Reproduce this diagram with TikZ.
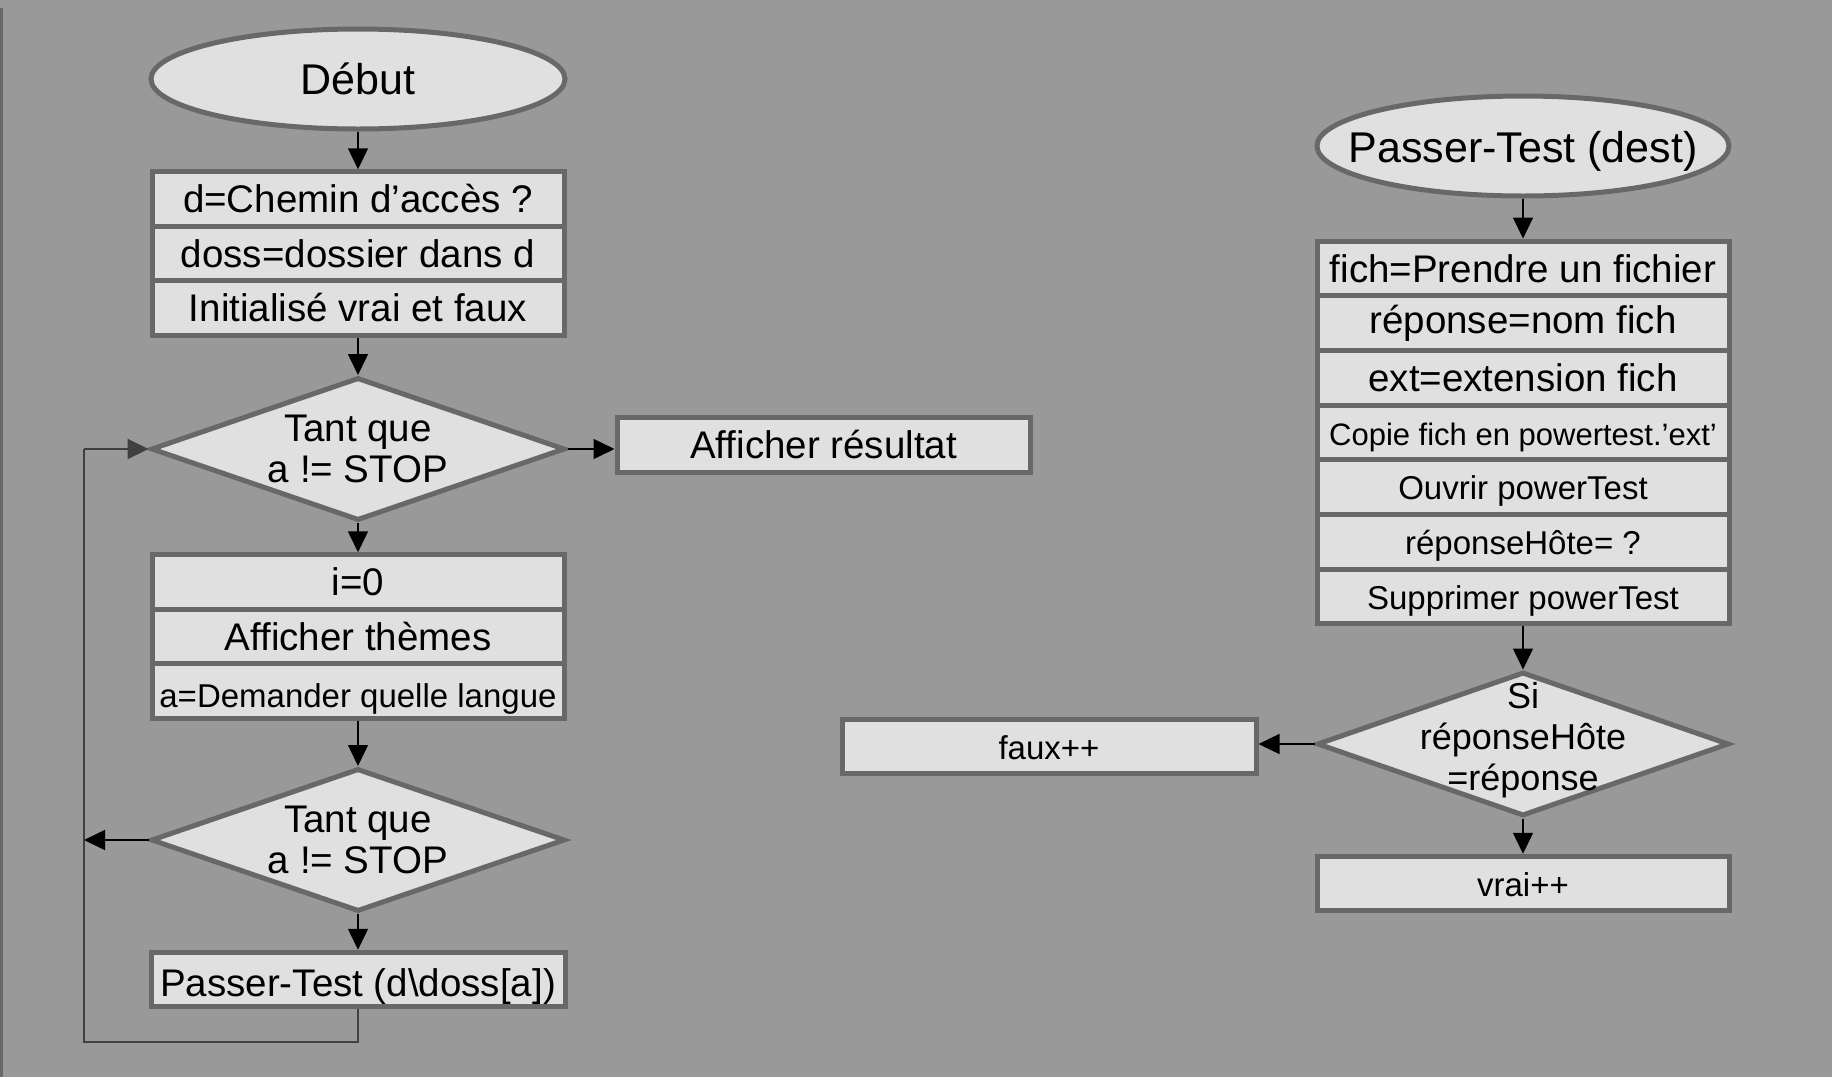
\documentclass[tikz,border=0pt]{standalone}
\usepackage{fontspec}
\setmainfont{Liberation Sans}
\usetikzlibrary{arrows.meta}
\usetikzlibrary{shapes.geometric}

\definecolor{fond}{RGB}{153,153,153}
\definecolor{remplissage}{RGB}{224,224,224}
\definecolor{bord}{RGB}{104,104,104}

\begin{document}
\begin{tikzpicture}[x=1pt,y=1pt,yscale=-1,xscale=1,
  boite/.style={rectangle, draw=bord, fill=remplissage, line width=5pt, minimum width=412pt, minimum height=54.5pt, inner sep=0pt, font=\fontsize{38.5}{41}\selectfont},
  ovale/.style={ellipse, draw=bord, fill=remplissage, line width=5pt, minimum width=412pt, minimum height=100pt, inner sep=0pt},
  losange/.style={diamond, draw=bord, fill=remplissage, line width=5pt, minimum width=414pt, minimum height=143pt, inner sep=0pt},
  texte/.style={align=center, inner sep=0pt, font=\fontsize{38.5}{41}\selectfont},
  petit/.style={font=\fontsize{33}{36}\selectfont, text depth=4pt, text height=29pt},
  fleche/.style={draw=black, line width=1.5pt, -{Triangle[length=21pt,width=20pt]}},
  retour/.style={draw=black!75, line width=2pt}]
%set diagram left start at 0, and has height of 1077
\fill[fond] (0,0) rectangle (1832,1077);
\useasboundingbox (0,0) rectangle (1832,1077);
\draw[bord, line width=3pt] (1.5,8) -- (1.5,1077);

%Shape: Ellipse [Debut]
\node[ovale, minimum width=414pt] (debut) at (358,79) {};
% Text Node
\node[texte, font=\fontsize{43}{46}\selectfont] (debut-t) at (debut.center) {Début};
%Shape: Rectangle
\node[boite] (chemin) at (358,199) {d=Chemin d’accès ?};
\node[boite] (doss) at (358,253.5) {doss=dossier dans d};
\node[boite] (init) at (358,308) {Initialisé vrai et faux};
%Shape: Diamond
\node[losange] (tq1) at (358,449) {};
% Text Node
\node[texte] (tq1-t) at (tq1.center) {Tant que\\a != STOP};
%Shape: Rectangle
\node[boite, minimum width=413pt] (resultat) at (823.5,445) {Afficher résultat};
\node[boite] (i0) at (358,582) {i=0};
\node[boite] (themes) at (358,636.5) {Afficher thèmes};
\node[boite, petit, text height=40pt, text depth=7pt] (langue) at (358,691) {a=Demander quelle langue};
%Shape: Diamond
\node[losange] (tq2) at (358,840) {};
% Text Node
\node[texte] (tq2-t) at (tq2.center) {Tant que\\a != STOP};
%Shape: Rectangle
\node[boite, minimum width=414pt, text height=40pt, text depth=7pt] (appel) at (358,979.5) {Passer-Test (d\textbackslash doss[a])};
\coordinate (coin-haut) at (84,449);
\coordinate (coin-bas) at (84,1042);
\coordinate (gauche) at (84,840);

%Straight Lines
\draw[fleche] (debut) -- (chemin);
\draw[fleche] (init) -- (tq1);
\draw[fleche] (tq1) -- (i0);
\draw[fleche] (tq1.east) -- (tq1.east -| resultat.west);
\draw[fleche] (langue) -- (tq2);
\draw[fleche] (tq2) -- (appel);
\draw[fleche] (tq2.west) -- (gauche);
\draw[retour] (appel.south) |- (coin-bas) -- (coin-haut);
\draw[fleche, line width=2pt, draw=black!75] (coin-haut) -- (tq1.west);

%Shape: Ellipse [Passer-Test]
\node[ovale] (pt) at (1523,146) {};
% Text Node
\node[texte, font=\fontsize{43}{46}\selectfont] (pt-t) at ([yshift=5pt]pt.center) {Passer-Test (dest)};
%Shape: Rectangle
\node[boite, minimum height=54.7pt] (fich) at (1523,268.4) {fich=Prendre un fichier};
\node[boite, minimum height=54.7pt] (reponse) at (1523,323.1) {réponse=nom fich};
\node[boite, minimum height=54.7pt] (ext) at (1523,377.8) {ext=extension fich};
\node[boite, minimum height=54.7pt, petit, font=\fontsize{31}{34}\selectfont] (copie) at (1523,432.5) {Copie fich en powertest.’ext’};
\node[boite, minimum height=54.7pt, petit] (ouvrir) at (1523,487.2) {Ouvrir powerTest};
\node[boite, minimum height=54.7pt, petit] (hote) at (1523,541.9) {réponseHôte= ?};
\node[boite, minimum height=54.7pt, petit] (suppr) at (1523,596.6) {Supprimer powerTest};
%Shape: Diamond
\node[losange, minimum width=412pt, minimum height=144pt] (si) at (1523,744) {};
% Text Node
\node[texte, font=\fontsize{36}{41}\selectfont] (si-t) at ([yshift=-4pt]si.center) {Si\\réponseHôte\\=réponse};
%Shape: Rectangle
\node[boite, minimum width=414pt, petit] (faux) at (1049,746.5) {faux++};
\node[boite, petit] (vrai) at (1523,883.5) {vrai++};

%Straight Lines
\draw[fleche] (pt) -- (fich);
\draw[fleche] (suppr) -- (si);
\draw[fleche] (si.west) -- (si.west -| faux.east);
\draw[fleche] (si) -- (vrai);

\end{tikzpicture}
\end{document}
